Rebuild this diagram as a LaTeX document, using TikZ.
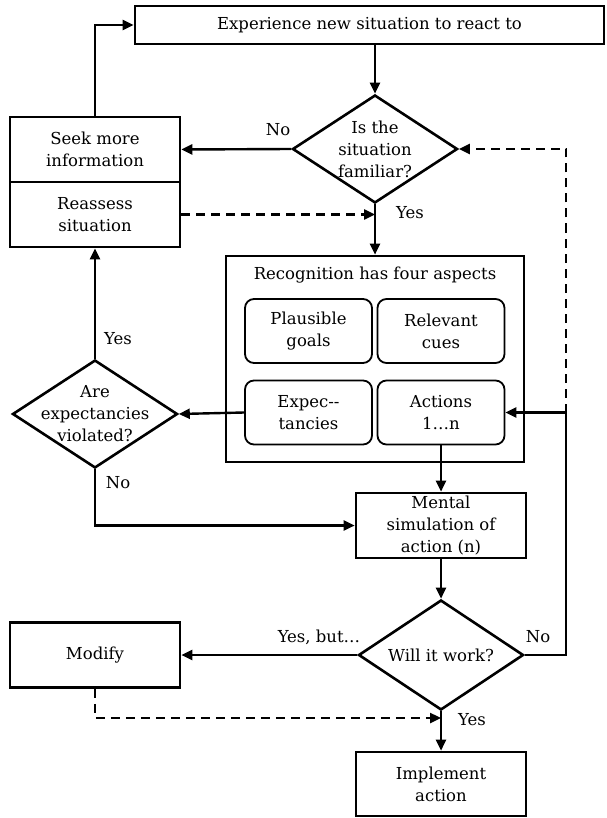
\documentclass[tikz,border=0pt]{standalone}
\usepackage{fontspec}
\setmainfont{DejaVu Serif}
\usetikzlibrary{shapes.geometric,arrows.meta}

\begin{document}
\begin{tikzpicture}[x=1pt, y=-1pt,
    every node/.style={font=\fontsize{16.5}{22}\selectfont},
    stepbox/.style={draw, line width=2.6pt, align=center, inner sep=0pt,
        minimum width=170pt, minimum height=65pt},
    aspectbox/.style={draw, rounded corners=9pt, line width=1.8pt, align=center,
        inner sep=0pt, minimum width=127pt, minimum height=64pt},
    choice/.style={draw, diamond, line width=2.6pt, align=center, inner sep=-8pt,
        aspect=1.5, minimum width=165pt, minimum height=108pt},
    arr/.style={line width=2.4pt, -{Triangle[length=11pt,width=10pt]}},
    dashy/.style={dashed, dash pattern=on 9pt off 6pt}
]
    \useasboundingbox (0,0) rectangle (606,818);

    % Boxes
    \node[stepbox, minimum width=469pt, minimum height=38pt] (top) at (369.5,25) {Experience new situation to react to};
    \node[choice] (fam) at (375,149) {Is the\\situation\\familiar?};
    \node[stepbox] (seek) at (95,149.5) {Seek more\\information};
    \node[stepbox] (reassess) at (95,214.5) {Reassess\\situation};

    \node[stepbox, minimum width=298pt, minimum height=206pt] (recog) at (375,359) {};
    \node (recogtitle) at (375,275) {Recognition has four aspects};
    \node[aspectbox] (goals) at (308.5,331) {Plausible\\goals};
    \node[aspectbox] (cues) at (441,331) {Relevant\\cues};
    \node[aspectbox] (expect) at (308.5,412.5) {Expec-{}-\\tancies};
    \node[aspectbox] (actions) at (441,412.5) {Actions\\1…n};

    \node[choice] (viol) at (95,414) {Are\\expectancies\\violated?};
    \node[stepbox] (mental) at (441,525.5) {Mental\\simulation of\\action (n)};
    \node[choice, minimum height=110pt] (work) at (441,655) {Will it work?};
    \node[stepbox] (modify) at (95,655) {Modify};
    \node[stepbox, minimum height=64pt] (implement) at (441,784) {Implement\\action};

    \coordinate (jn) at (566,412.5);
    \coordinate (yesjoin) at (441,718);

    % Arrows
    \draw[arr] (fam.north |- top.south) -- (fam.north);
    \draw[arr] (fam.west) -- (seek.east);
    \draw[arr] (seek.north) |- (top.west);
    \draw[arr, dashy] (reassess.east) -- (reassess.east -| fam.south);
    \draw[arr] (fam.south) -- (recog.north);
    \draw[arr] (work.east) -| (jn) -- (actions.east);
    \draw[arr, dashy] (jn) |- (fam.east);
    \draw[arr] (expect.west) -- (viol.east);
    \draw[arr] (viol.north) -- (reassess.south);
    \draw[arr] (viol.south) |- (mental.west);
    \draw[arr] (actions.south) -- (mental.north);
    \draw[arr] (mental.south) -- (work.north);
    \draw[arr] (work.west) -- (modify.east);
    \draw[arr] (work.south) -- (implement.north);
    \draw[arr, dashy] (modify.south) |- (yesjoin);

    % Labels
    \node (nofam) at (278,130) {No};
    \node (yesfam) at (410,213) {Yes};
    \node (yesviol) at (118,339) {Yes};
    \node (noviol) at (118,483) {No};
    \node (yesbut) at (319,637) {Yes, but…};
    \node (nowork) at (538,637) {No};
    \node (yeswork) at (472,720) {Yes};
\end{tikzpicture}
\end{document}
